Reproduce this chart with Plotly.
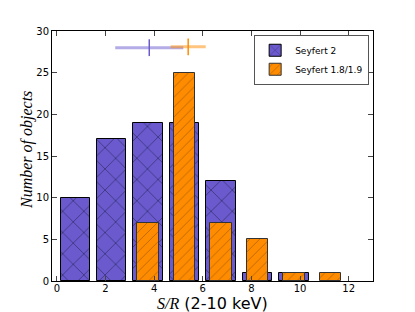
import plotly.graph_objects as go

# Data
bin_centers_sy2 = [0.75, 2.25, 3.75, 5.25, 6.75, 8.25, 9.75]
counts_sy2 = [10, 17, 19, 19, 12, 1, 1]
bin_centers_sy18 = [3.75, 5.25, 6.75, 8.25, 9.75, 11.25]
counts_sy18 = [7, 25, 7, 5, 1, 1]

mean_sy2 = [3.8]
err_sy2 = [1.4]
mean_sy18 = [5.4]
err_sy18 = [0.72]
err_y_sy2 = [28.0]
err_y_sy18 = [28.1]

x_ticks = [0, 2, 4, 6, 8, 10, 12]
y_ticks = [0, 5, 10, 15, 20, 25, 30]

BLUE = "#6A5ACD"
ORANGE = "#FF8C00"

fig = go.Figure()
fig.add_trace(go.Bar(
    x=bin_centers_sy2, y=counts_sy2, width=1.2, name="Seyfert 2",
    marker=dict(color=BLUE, line=dict(color="black", width=1),
                pattern=dict(shape="x", size=15, solidity=0.12, fgcolor="#15153a")),
))
fig.add_trace(go.Bar(
    x=bin_centers_sy18, y=counts_sy18, width=0.9, name="Seyfert 1.8/1.9",
    marker=dict(color=ORANGE, line=dict(color="#333333", width=1),
                pattern=dict(shape="/", size=7, solidity=0.1, fgcolor="#4a2800")),
))
# error bars (pale lines) + central markers
fig.add_trace(go.Scatter(
    x=mean_sy2, y=err_y_sy2, mode="markers", showlegend=False,
    marker=dict(symbol="line-ns", size=12, line=dict(color=BLUE, width=1.5)),
    error_x=dict(type="data", array=err_sy2, color="rgba(106,90,205,0.5)", thickness=3, width=0),
))
fig.add_trace(go.Scatter(
    x=mean_sy18, y=err_y_sy18, mode="markers", showlegend=False,
    marker=dict(symbol="line-ns", size=12, line=dict(color=ORANGE, width=1.5)),
    error_x=dict(type="data", array=err_sy18, color="rgba(255,140,0,0.5)", thickness=3, width=0),
))

fig.update_layout(
    width=407, height=304,
    margin=dict(l=44, r=42, t=23, b=31),
    paper_bgcolor="white", plot_bgcolor="white",
    barmode="overlay", bargap=0,
    font=dict(family="DejaVu Sans", size=10, color="black"),
    legend=dict(x=0.988, xanchor="right", y=0.985, yanchor="top",
                bordercolor="#555555", borderwidth=1, bgcolor="white",
                font=dict(size=9), tracegroupgap=0,
                itemwidth=30),
    xaxis=dict(range=[-0.2, 13], tickvals=x_ticks, ticks="inside", ticklen=5,
               ticklabelstandoff=-2,
               showline=True, linecolor="black", linewidth=1, mirror="ticks",
               showgrid=False, zeroline=False, automargin=False),
    yaxis=dict(range=[0, 30], tickvals=y_ticks, ticks="inside", ticklen=5,
               showline=True, linecolor="black", linewidth=1, mirror="ticks",
               showgrid=False, zeroline=False, automargin=False),
    annotations=[
        dict(text="<span style='font-family:Liberation Serif;font-style:italic'>S/R</span> (2-10 keV)",
             xref="paper", yref="paper", x=0.5, y=0, xanchor="center", yanchor="middle",
             yshift=-22, showarrow=False, font=dict(size=16), borderpad=0),
        dict(text="<i>Number of objects</i>", textangle=-90,
             xref="paper", yref="paper", x=0, y=0.524, xanchor="center", yanchor="middle",
             xshift=-25, showarrow=False, font=dict(family="Liberation Serif", size=16)),
    ],
)

fig.write_html("out.html")
